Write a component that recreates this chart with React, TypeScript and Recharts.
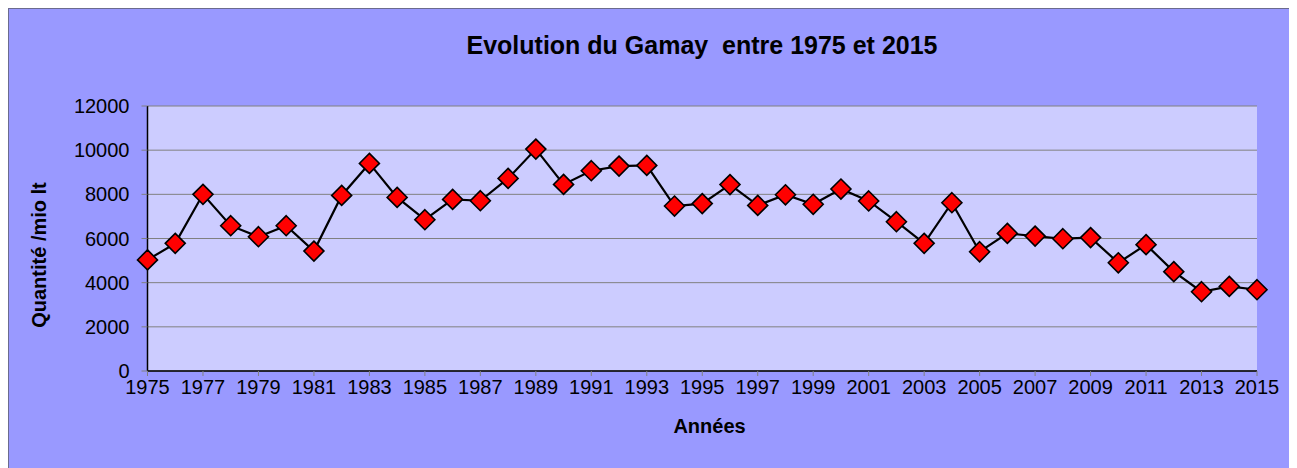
import React from "react";
import { LineChart, Line, XAxis, YAxis, CartesianGrid } from "recharts";

const years = [
  1975, 1976, 1977, 1978, 1979, 1980, 1981, 1982, 1983, 1984,
  1985, 1986, 1987, 1988, 1989, 1990, 1991, 1992, 1993, 1994,
  1995, 1996, 1997, 1998, 1999, 2000, 2001, 2002, 2003, 2004,
  2005, 2006, 2007, 2008, 2009, 2010, 2011, 2012, 2013, 2014, 2015,
];
const quantities = [
  5030, 5780, 8000, 6580, 6080, 6580, 5430, 7950, 9400, 7860,
  6850, 7770, 7710, 8720, 10050, 8450, 9070, 9280, 9310, 7470,
  7580, 8440, 7500, 7980, 7550, 8240, 7700, 6760, 5780, 7620,
  5400, 6230, 6110, 5990, 6040, 4900, 5720, 4500, 3590, 3830, 3680,
];
const xTicks = [
  1975, 1977, 1979, 1981, 1983, 1985, 1987, 1989, 1991, 1993, 1995,
  1997, 1999, 2001, 2003, 2005, 2007, 2009, 2011, 2013, 2015,
];
const yTicks = [0, 2000, 4000, 6000, 8000, 10000, 12000];

const title = "Evolution du Gamay  entre 1975 et 2015";
const xTitle = "Années";
const yTitle = "Quantité /mio lt";

const data = years.map((y, i) => ({ year: y, q: quantities[i] }));

const FONT = "'Liberation Sans', Arial, sans-serif";

const Diamond = (props: any) => {
  const { cx, cy } = props;
  if (cx == null || cy == null) return null;
  const r = 10;
  return (
    <polygon
      points={`${cx},${cy - r} ${cx + r},${cy} ${cx},${cy + r} ${cx - r},${cy}`}
      fill="#FF0000"
      stroke="#000"
      strokeWidth={1.6}
    />
  );
};

export default function App() {
  return (
    <div
      style={{
        position: "relative",
        width: 1289,
        height: 460,
        background: "#9999FF",
        borderLeft: "1px solid #6b6b8f",
        borderTop: "1px solid #6b6b8f",
        boxSizing: "border-box",
        fontFamily: FONT,
        overflow: "hidden",
      }}
    >
      <style>{`html, body { overflow: hidden; }`}</style>
      <div style={{ position: "absolute", left: -1, top: -1 }}>
        <LineChart
          width={1289}
          height={460}
          data={data}
          margin={{ top: 98, right: 40, bottom: 57, left: 0 }}
        >
          <CartesianGrid
            horizontal={true}
            vertical={false}
            fill="#CCCCFF"
            stroke="#808080"
            strokeWidth={1}
          />
          <XAxis
            dataKey="year"
            type="number"
            domain={[1975, 2015]}
            ticks={xTicks}
            interval={0}
            height={40}
            tickSize={5}
            tickMargin={4}
            axisLine={{ stroke: "#000", strokeWidth: 1.5 }}
            tickLine={{ stroke: "#808080" }}
            tick={{ fill: "#000", fontSize: 20, fontFamily: FONT }}
          />
          <YAxis
            type="number"
            domain={[0, 12000]}
            ticks={yTicks}
            interval={0}
            width={139.5}
            tickSize={6}
            tickMargin={12}
            axisLine={{ stroke: "#000", strokeWidth: 1.5 }}
            tickLine={{ stroke: "#808080" }}
            tick={{ fill: "#000", fontSize: 20, fontFamily: FONT }}
          />
          <Line
            dataKey="q"
            stroke="#000"
            strokeWidth={2.2}
            dot={<Diamond />}
            activeDot={false}
            isAnimationActive={false}
          />
        </LineChart>
      </div>
      <div
        style={{
          position: "absolute",
          left: 693,
          top: 23.5,
          transform: "translateX(-50%)",
          whiteSpace: "pre",
          fontSize: 25,
          lineHeight: "25px",
          fontWeight: "bold",
          color: "#000",
        }}
      >
        {title}
      </div>
      <div
        style={{
          position: "absolute",
          left: 700.5,
          top: 407,
          transform: "translateX(-50%)",
          whiteSpace: "pre",
          fontSize: 20,
          lineHeight: "20px",
          fontWeight: "bold",
          color: "#000",
        }}
      >
        {xTitle}
      </div>
      <div
        style={{
          position: "absolute",
          left: 30,
          top: 246,
          transform: "translate(-50%, -50%) rotate(-90deg)",
          whiteSpace: "pre",
          fontSize: 20,
          lineHeight: "20px",
          fontWeight: "bold",
          color: "#000",
        }}
      >
        {yTitle}
      </div>
    </div>
  );
}
